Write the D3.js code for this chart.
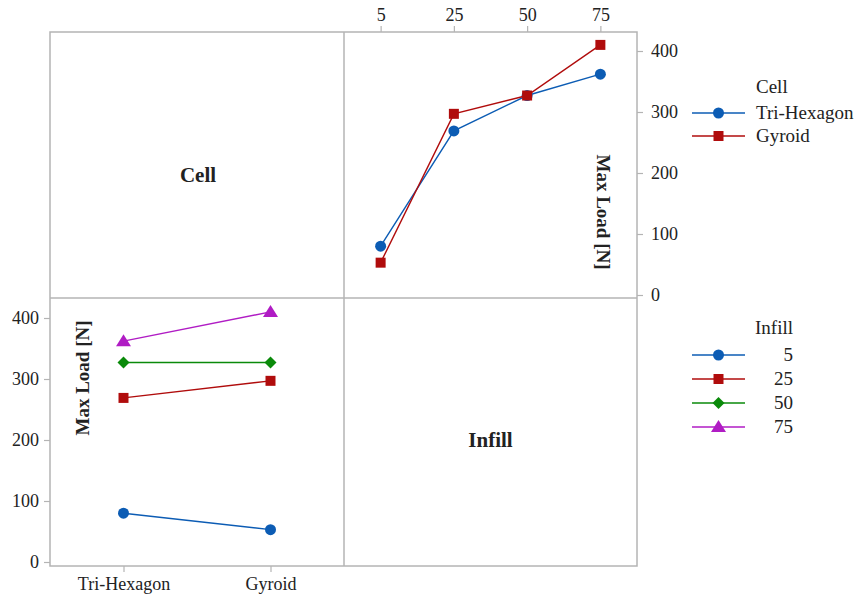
<!DOCTYPE html>
<meta charset="utf-8">
<style>
body { margin: 0; background: #fff; }
svg text { font-family: "Liberation Serif", "DejaVu Serif", serif !important; fill: #222; }
.axis path, .axis line { stroke: #b4b4b4; stroke-width: 1.2px; }
.frame { fill: none; stroke: #b4b4b4; stroke-width: 1.5px; }
.lbl { font-size: 21px; font-weight: bold; }
.ylab { font-size: 19px; font-weight: bold; }
.leg { font-size: 19px; }
</style>
<svg width="862" height="597"></svg>
<script src="https://d3js.org/d3.v7.min.js"></script>
<script>
var cells = ["Tri-Hexagon", "Gyroid"];
var infills = ["5", "25", "50", "75"];
// max load [N] per cell, one value per infill
var triHexagon = [80, 269, 327, 362];
var gyroid = [53, 297, 327, 410];
var yTicks = [0, 100, 200, 300, 400];

var serif = "Liberation Serif, DejaVu Serif, serif";

var cellColor = {"Tri-Hexagon": "#0c5cb4", "Gyroid": "#b00c0c"};
var cellShape = {"Tri-Hexagon": "circle", "Gyroid": "square"};
var infillColor = {"5": "#0c5cb4", "25": "#b00c0c", "50": "#0a8a0a", "75": "#b01cc4"};
var infillShape = {"5": "circle", "25": "square", "50": "diamond", "75": "triangle"};

var byCell = {"Tri-Hexagon": triHexagon, "Gyroid": gyroid};

var svg = d3.select("svg");

var L = 50, R = 637, T = 32, B = 566, MX = 344, MY = 298;

// marker path + extra rotation
function marker(sel, shape, color, x, y) {
  var p, rot = 0;
  if (shape === "circle") p = d3.symbol().type(d3.symbolCircle).size(95)();
  else if (shape === "square") p = d3.symbol().type(d3.symbolSquare).size(100)();
  else if (shape === "diamond") { p = d3.symbol().type(d3.symbolSquare).size(72)(); rot = 45; }
  else p = "M0,-7L7.5,5L-7.5,5Z";
  sel.append("path").attr("d", p).attr("fill", color)
    .attr("transform", "translate(" + x + "," + y + ") rotate(" + rot + ")");
}

// frame
svg.append("rect").attr("class", "frame")
  .attr("x", L).attr("y", T).attr("width", R - L).attr("height", B - T);
svg.append("line").attr("class", "frame")
  .attr("x1", MX).attr("x2", MX).attr("y1", T).attr("y2", B);
svg.append("line").attr("class", "frame")
  .attr("x1", L).attr("x2", R).attr("y1", MY).attr("y2", MY);

function styleAxis(g) {
  g.select(".domain").remove();
  g.attr("font-family", serif).attr("font-size", 18);
  g.selectAll("text").attr("fill", "#222");
}

// ---- top right panel: x = infill, lines by cell
var x1 = d3.scalePoint().domain(infills).range([MX, R]).padding(0.5);
var y1 = d3.scaleLinear().domain([0, 400]).range([MY - 3, T + 19]);

svg.append("g").attr("class", "axis")
  .attr("transform", "translate(0," + T + ")")
  .call(d3.axisTop(x1).tickSize(6).tickSizeOuter(0).tickPadding(5))
  .call(styleAxis);

svg.append("g").attr("class", "axis")
  .attr("transform", "translate(" + R + ",0)")
  .call(d3.axisRight(y1).tickValues(yTicks).tickSize(6).tickSizeOuter(0).tickPadding(8))
  .call(styleAxis);

var line1 = d3.line().x(function(d, i) { return x1(infills[i]); }).y(function(d) { return y1(d); });
cells.forEach(function(c) {
  svg.append("path").datum(byCell[c])
    .attr("d", line1).attr("fill", "none")
    .attr("stroke", cellColor[c]).attr("stroke-width", 1.4);
  byCell[c].forEach(function(d, i) {
    marker(svg, cellShape[c], cellColor[c], x1(infills[i]), y1(d));
  });
});

// ---- bottom left panel: x = cell, lines by infill
var x2 = d3.scalePoint().domain(cells).range([L, MX]).padding(0.5);
var y2 = d3.scaleLinear().domain([0, 400]).range([B - 4, MY + 20]);

svg.append("g").attr("class", "axis")
  .attr("transform", "translate(0," + B + ")")
  .call(d3.axisBottom(x2).tickSize(6).tickSizeOuter(0).tickPadding(5))
  .call(styleAxis);

svg.append("g").attr("class", "axis")
  .attr("transform", "translate(" + L + ",0)")
  .call(d3.axisLeft(y2).tickValues(yTicks).tickSize(6).tickSizeOuter(0).tickPadding(5))
  .call(styleAxis);

infills.forEach(function(f, k) {
  var vals = cells.map(function(c) { return byCell[c][k]; });
  var line2 = d3.line().x(function(d, i) { return x2(cells[i]); }).y(function(d) { return y2(d); });
  svg.append("path").datum(vals)
    .attr("d", line2).attr("fill", "none")
    .attr("stroke", infillColor[f]).attr("stroke-width", 1.4);
  vals.forEach(function(d, i) {
    marker(svg, infillShape[f], infillColor[f], x2(cells[i]), y2(d));
  });
});

// panel labels
svg.append("text").attr("class", "lbl").attr("x", (L + MX) / 2 + 1).attr("y", 182)
  .attr("text-anchor", "middle").text("Cell");
svg.append("text").attr("class", "lbl").attr("x", (MX + R) / 2).attr("y", 447)
  .attr("text-anchor", "middle").text("Infill");

svg.append("text").attr("class", "ylab")
  .attr("transform", "translate(597,212) rotate(90)")
  .attr("text-anchor", "middle").text("Max Load [N]");
svg.append("text").attr("class", "ylab")
  .attr("transform", "translate(89,378) rotate(-90)")
  .attr("text-anchor", "middle").text("Max Load [N]");

// legends
var lx0 = 692, lx1 = 745;
var legCell = svg.append("g");
legCell.append("text").attr("class", "leg").attr("x", 756).attr("y", 93).text("Cell");
cells.forEach(function(c, i) {
  var yy = 113 + i * 23;
  legCell.append("line").attr("x1", lx0).attr("x2", lx1).attr("y1", yy).attr("y2", yy)
    .attr("stroke", cellColor[c]).attr("stroke-width", 1.4);
  marker(legCell, cellShape[c], cellColor[c], (lx0 + lx1) / 2, yy);
  legCell.append("text").attr("class", "leg").attr("x", 756).attr("y", yy + 6).text(c);
});

var legInf = svg.append("g");
legInf.append("text").attr("class", "leg").attr("x", 793).attr("y", 334)
  .attr("text-anchor", "end").text("Infill");
infills.forEach(function(f, i) {
  var yy = 355 + i * 24;
  legInf.append("line").attr("x1", lx0).attr("x2", lx1).attr("y1", yy).attr("y2", yy)
    .attr("stroke", infillColor[f]).attr("stroke-width", 1.4);
  marker(legInf, infillShape[f], infillColor[f], (lx0 + lx1) / 2, yy);
  legInf.append("text").attr("class", "leg").attr("x", 793).attr("y", yy + 6)
    .attr("text-anchor", "end").text(f);
});
</script>
